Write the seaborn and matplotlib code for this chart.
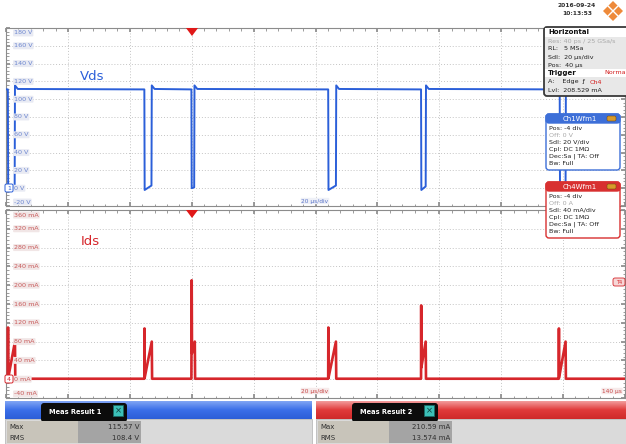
import numpy as np
import matplotlib.pyplot as plt
import matplotlib.patches as mpatches
from matplotlib.colors import LinearSegmentedColormap
import seaborn as sns

# Vds trace (time in us, volts)
vds_t = [-60.0, -59.4, -59.3, -57.2, -57.1, -56.2,
         -15.3, -15.2, -13.0, -12.9, -12.0,
         -0.1, 0.0, 0.8, 0.9, 1.8,
         44.1, 44.2, 46.6, 46.7, 47.6,
         74.1, 74.2, 75.6, 75.7, 76.6,
         118.9, 119.0, 120.8, 120.9, 121.8, 140.0]
vds_v = [111, 111, 0, 2, 115.5, 111.5,
         111, -2, 3, 115.5, 111.5,
         111, 0, 1, 115.5, 111.5,
         111, -2, 3, 115.5, 111.5,
         111, -2, 2, 115.5, 111.5,
         111, -2, 3, 115.5, 111.5, 111]

# Ids trace (time in us, mA)
ids_t = [-60.0, -59.4, -59.35, -59.3, -57.1, -57.0,
         -15.3, -15.25, -15.2, -12.9, -12.8,
         -0.1, 0.0, 0.1, 1.0, 1.1,
         44.1, 44.15, 44.2, 46.6, 46.7,
         74.1, 74.15, 74.2, 75.6, 75.7,
         118.6, 118.65, 118.7, 120.8, 120.9, 140.0]
ids_v = [1, 1, 110, 2, 80, 1,
         1, 108, 3, 80, 1,
         1, 210.5, 55, 80, 1,
         1, 110, 3, 80, 1,
         1, 157, 25, 80, 1,
         1, 108, 3, 80, 1, 1]

time_ticks = [-60, -40, -20, 0, 20, 40, 60, 80, 100, 120, 140]
vds_ticks = [-20, 0, 20, 40, 60, 80, 100, 120, 140, 160, 180]
ids_ticks = [-40, 0, 40, 80, 120, 160, 200, 240, 280, 320, 360]

meas1_labels = ['Max', 'RMS']
meas1_values = ['115.57 V', '108.4 V']
meas2_labels = ['Max', 'RMS']
meas2_values = ['210.59 mA', '13.574 mA']

BLUE = '#2b5fd9'
RED = '#d6262b'

sns.set_theme(style='white')
plt.rcParams['font.family'] = ['DejaVu Sans']

W, H = 626, 444
fig = plt.figure(figsize=(W / 100, H / 100), dpi=100)
fig.patch.set_facecolor('white')


def frac(x0, y0, x1, y1):
    return [x0 / W, 1 - y1 / H, (x1 - x0) / W, (y1 - y0) / H]


ax1 = fig.add_axes(frac(6, 28, 625, 206))
ax2 = fig.add_axes(frac(6, 210, 625, 398))


def style_panel(ax, yticks, unit, col, lab_bg, minor_step):
    ax.set_xlim(time_ticks[0], time_ticks[-1])
    ax.set_ylim(yticks[0], yticks[-1])
    ax.set_xticks(time_ticks)
    ax.set_yticks(yticks)
    ax.set_xticks(np.arange(time_ticks[0], time_ticks[-1] + 1, 4), minor=True)
    ax.set_yticks(np.arange(yticks[0], yticks[-1] + 1, minor_step), minor=True)
    ax.grid(True, which='major', color='#c4c4c4', linestyle=(0, (1, 2)), linewidth=0.7)
    ax.tick_params(which='both', direction='in', labelleft=False, labelbottom=False,
                   top=True, bottom=True, left=True, right=True, color='#8c8c8c')
    ax.tick_params(which='major', length=3)
    ax.tick_params(which='minor', length=1.8, width=0.6)
    for s in ax.spines.values():
        s.set_color('#8c8c8c')
        s.set_linewidth(0.8)
    ax.set_xlabel('')
    ax.set_ylabel('')
    n = len(yticks)
    for i, v in enumerate(yticks):
        va = 'bottom' if i == 0 else ('top' if i == n - 1 else 'center')
        off = 1.5 if i == 0 else (-2.5 if i == n - 1 else 0)
        ax.text(0.013, v + off * (yticks[1] - yticks[0]) / 18, f'{v} {unit}',
                transform=ax.get_yaxis_transform(), fontsize=4.6, color=col,
                va=va, ha='left', zorder=5,
                bbox=dict(boxstyle='round,pad=0.15', fc=lab_bg, ec='none'))


sns.lineplot(x=vds_t, y=vds_v, ax=ax1, color=BLUE, linewidth=1.4,
             sort=False, estimator=None, zorder=4)
sns.lineplot(x=ids_t, y=ids_v, ax=ax2, color=RED, linewidth=1.9,
             sort=False, estimator=None, zorder=4)
style_panel(ax1, vds_ticks, 'V', '#6c86cf', '#e8eaf3', 4)
style_panel(ax2, ids_ticks, 'mA', '#c85a5a', '#f1e6e6', 8)

ax1.text(0.12, 0.73, 'Vds', transform=ax1.transAxes, color=BLUE, fontsize=9.5,
         ha='left', va='center')
ax2.text(0.12, 0.83, 'Ids', transform=ax2.transAxes, color=RED, fontsize=9.5,
         ha='left', va='center')

# overlay in pixel coordinates for the scope decorations
ov = fig.add_axes([0, 0, 1, 1], zorder=10)
ov.axis('off')


def rbox(x0, y0, x1, y1, fc, ec='none', lw=0.8, r=2.0, z=1):
    p = mpatches.FancyBboxPatch((x0, y0), x1 - x0, y1 - y0,
                                boxstyle=f'round,pad=0,rounding_size={r}',
                                fc=fc, ec=ec, lw=lw, zorder=z)
    ov.add_patch(p)
    return p


def rect(x0, y0, x1, y1, fc, ec='none', lw=0.6, z=1):
    ov.add_patch(mpatches.Rectangle((x0, y0), x1 - x0, y1 - y0, fc=fc, ec=ec, lw=lw, zorder=z))


def txt(x, y, s, col='#202020', fs=4.8, **kw):
    kw.setdefault('ha', 'left')
    kw.setdefault('va', 'center')
    ov.text(x, y, s, color=col, fontsize=fs, zorder=kw.pop('zorder', 6), **kw)


# trigger markers
for ytop in (28, 210):
    ov.add_patch(mpatches.Polygon([[186, ytop], [198, ytop], [192, ytop + 8]],
                                  closed=True, fc='#e01818', ec='none', zorder=3))

# channel ground markers
rbox(5, 184, 13, 192, 'white', BLUE, lw=0.7, r=1.5, z=3)
txt(9, 188, '1', BLUE, fs=4.5, ha='center', zorder=4)
rbox(5, 375, 13, 383, 'white', RED, lw=0.7, r=1.5, z=3)
txt(9, 379, '4', RED, fs=4.5, ha='center', zorder=4)

# trigger level marker on the right
rbox(613, 278, 625, 286, '#f6d6d6', RED, lw=0.6, r=2, z=3)
txt(619, 282, 'T4', RED, fs=3.6, ha='center', zorder=4)

# time base labels
txt(315, 201, '20 µs/div', '#5a74c8', fs=4.2, ha='center',
    bbox=dict(boxstyle='round,pad=0.12', fc='#eef0f7', ec='none'))
txt(315, 391, '20 µs/div', '#c84848', fs=4.2, ha='center',
    bbox=dict(boxstyle='round,pad=0.12', fc='#f6eaea', ec='none'))
txt(622, 391, '140 µs', '#c84848', fs=4.2, ha='right',
    bbox=dict(boxstyle='round,pad=0.12', fc='#f6eaea', ec='none'))

# timestamp and logo
txt(577, 5.5, '2016-09-24', '#303030', fs=4.3, ha='center', fontweight='bold')
txt(577, 13.5, '10:13:53', '#303030', fs=4.3, ha='center', fontweight='bold')
cx, cy, rr = 613, 11, 10
ov.add_patch(mpatches.Polygon([[cx, cy - rr], [cx + rr, cy], [cx, cy + rr], [cx - rr, cy]],
                              closed=True, fc='#ee8a3a', ec='none', zorder=3))
ov.plot([cx - rr / 2, cx + rr / 2], [cy - rr / 2, cy + rr / 2], color='white', lw=1.0, zorder=4)
ov.plot([cx - rr / 2, cx + rr / 2], [cy + rr / 2, cy - rr / 2], color='white', lw=1.0, zorder=4)

# Horizontal / Trigger info box
rbox(544, 27, 632, 96, '#e8e8e8', '#3a3a3a', lw=1.3, r=3, z=5)
rect(545, 28, 630, 37, 'white', z=5)
txt(548, 32.5, 'Horizontal', '#101010', fs=5, fontweight='bold')
txt(548, 41, 'Res: 40 ps / 25 GSa/s', '#a8a8a8', fs=4.6)
txt(548, 49, 'RL:   5 MSa', fs=4.6)
txt(548, 57, 'Sdl:  20 µs/div', fs=4.6)
txt(548, 65, 'Pos:  40 µs', fs=4.6)
rect(545, 69, 630, 77, 'white', z=5)
txt(548, 73, 'Trigger', '#101010', fs=5, fontweight='bold')
txt(604, 73, 'Normal', '#d42020', fs=4.6)
txt(548, 82, 'A:    Edge  ƒ', fs=4.6)
txt(590, 82, 'Ch4', '#d42020', fs=4.6)
txt(548, 90, 'Lvl:  208.529 mA', fs=4.6)

# channel setup boxes
ch_rows = [
    ('Ch1Wfm1', '#3d6fd8', 114, ['Pos: -4 div', 'Off: 0 V', 'Sdl: 20 V/div',
                                 'Cpl: DC 1MΩ', 'Dec:Sa | TA: Off', 'Bw: Full']),
    ('Ch4Wfm1', '#d83030', 182, ['Pos: -4 div', 'Off: 0 A', 'Sdl: 40 mA/div',
                                 'Cpl: DC 1MΩ', 'Dec:Sa | TA: Off', 'Bw: Full']),
]
for title, col, y0, rows in ch_rows:
    rbox(546, y0, 620, y0 + 56, 'white', col, lw=1.0, r=3, z=5)
    rbox(546, y0, 620, y0 + 9, col, col, lw=1.0, r=3, z=5)
    rect(546.5, y0 + 5, 619.5, y0 + 9, col, z=5)
    txt(580, y0 + 4.5, title, 'white', fs=5, ha='center')
    rbox(607, y0 + 2, 616, y0 + 7, '#d89a2a', '#7a5010', lw=0.4, r=1.5, z=6)
    for k, line in enumerate(rows):
        c = '#a8a8a8' if line.startswith('Off') else '#202020'
        txt(549, y0 + 14 + 7 * k, line, c, fs=4.6)

# measurement result bars
blue_cm = LinearSegmentedColormap.from_list('b', ['#7fa4f4', '#3a6ee8', '#2c5ed8'])
red_cm = LinearSegmentedColormap.from_list('r', ['#f29a9a', '#e03a3a', '#cf2a2a'])
grad = np.linspace(0, 1, 32).reshape(-1, 1)

meas = [
    (5, 312, blue_cm, 'Meas Result 1', meas1_labels, meas1_values),
    (316, 626, red_cm, 'Meas Result 2', meas2_labels, meas2_values),
]
for x0, x1, cm, name, labs, vals in meas:
    ov.imshow(grad, cmap=cm, extent=(x0, x1, 419, 401), aspect='auto', zorder=1)
    rect(x0, 419, x1, 444, '#dadada', '#b0b0b0', lw=0.5, z=1)
    tx = x0 + 36
    rbox(tx, 403, tx + 86, 422, '#0c0c0c', r=3, z=2)
    txt(tx + 8, 411.5, name, 'white', fs=4.8, fontweight='bold', zorder=3)
    rect(tx + 72, 405, tx + 82, 416, '#3cc0b8', '#1a6a66', lw=0.6, z=3)
    txt(tx + 77, 410.5, '×', '#0c3a38', fs=6, ha='center', zorder=4)
    for k, (lab, val) in enumerate(zip(labs, vals)):
        yt = 421 + 11 * k
        rect(x0 + 2, yt, x0 + 73, yt + 10.5, '#c8c4ba', z=2)
        rect(x0 + 73, yt, x0 + 136, yt + 10.5, '#a4a4a4', z=2)
        txt(x0 + 4, yt + 5.5, lab, '#303030', fs=5)
        txt(x0 + 134, yt + 5.5, val, '#303030', fs=5, ha='right')

ov.set_xlim(0, W)
ov.set_ylim(H, 0)

fig.savefig('out.png', dpi=100)
